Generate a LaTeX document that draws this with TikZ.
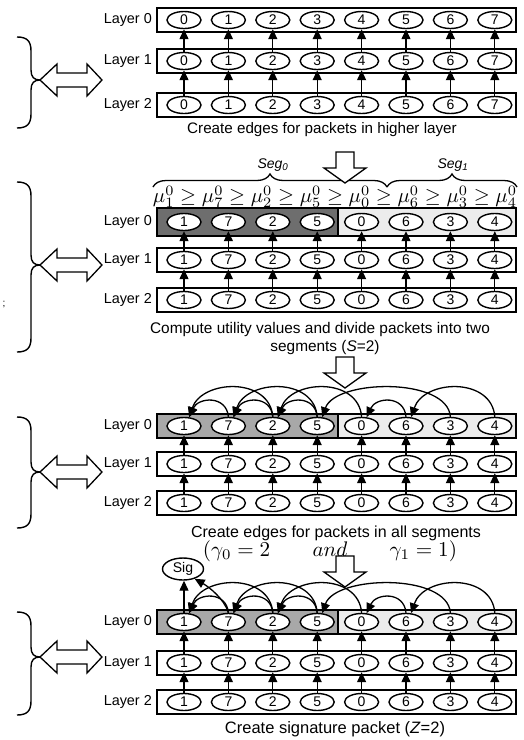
\documentclass[tikz,border=0pt]{standalone}
\usepackage{fontspec}
\setmainfont{Liberation Sans}
\usepackage{graphicx}
\usetikzlibrary{arrows.meta,shapes.geometric,decorations.pathreplacing}
\definecolor{segdark}{HTML}{6E6E6E}
\definecolor{segmid}{HTML}{A8A8A8}
\definecolor{seglight}{HTML}{ECECEC}
\tikzset{
  pkt/.style={draw, line width=1.4pt, fill=white, ellipse, minimum width=34pt, minimum height=17pt, inner sep=0pt, font=\fontsize{14}{14}\selectfont},
  layerbox/.style={draw, line width=1.4pt},
  lbl/.style={anchor=east, font=\fontsize{14.4}{14.4}\selectfont, inner sep=0pt},
  captxt/.style={anchor=base, inner sep=0pt},
  uparr/.style={line width=1.3pt, -{Triangle[length=10pt,width=9pt]}},
  arcarr/.style={line width=1.3pt, -{Triangle[length=10pt,width=9pt]}},
  blockarr/.style={draw, line width=1.3pt, fill=white, line join=miter},
  bracestroke/.style={line width=1.4pt},
  topbrace/.style={line width=1.3pt, decorate, decoration={brace, amplitude=13pt}}
}
\newcommand\pktrow[3]{%
  \foreach \t [count=\i from 0] in {#3} {\node[pkt] (#1c\i) at ({184+44.4*\i},#2) {\t};}}
\newcommand\uprow[2]{%
  \foreach \i in {0,...,7} {\draw[uparr] (#1c\i) -- (#2c\i);}}
\newcommand\leftbrace[3]{%
  \draw[bracestroke] (17,#1) .. controls (27,#1) and (31,{#1+4}) .. (31,{#1+14})
    -- (31,{#2-10}) .. controls (31,{#2-3}) and (34,#2) .. (40,#2)
    .. controls (34,#2) and (31,{#2+3}) .. (31,{#2+10})
    -- (31,{#3-14}) .. controls (31,{#3-4}) and (27,#3) .. (17,#3);}
\newcommand\dblarrow[1]{%
  \draw[blockarr] (40,#1) -- (57,{#1-16}) -- (57,{#1-7}) -- (87,{#1-7}) -- (87,{#1-16})
    -- (102,#1) -- (87,{#1+16}) -- (87,{#1+7}) -- (57,{#1+7}) -- (57,{#1+16}) -- cycle;}
\newcommand\blockdown[1]{%
  \draw[blockarr] (336,#1) -- (354,#1) -- (354,{#1+16}) -- (366,{#1+16}) -- (345,{#1+31})
    -- (324,{#1+16}) -- (336,{#1+16}) -- cycle;}
\newcommand\smallarc[2]{\draw[arcarr] (#1.north) .. controls +(-2,-22) and +(9,-20) .. (#2.60);}
\newcommand\bigarc[2]{\draw[arcarr] (#1.north) .. controls +(-3,-40) and +(13,-38) .. (#2.60);}
\newcommand\segarcs[1]{%
  \smallarc{#1c1}{#1c0}
  \bigarc{#1c2}{#1c0}
  \smallarc{#1c2}{#1c1}
  \bigarc{#1c3}{#1c1}
  \smallarc{#1c3}{#1c2}
  \bigarc{#1c4}{#1c2}
  \bigarc{#1c6}{#1c3}
  \smallarc{#1c5}{#1c4}
  \bigarc{#1c7}{#1c5}}
\begin{document}
\begin{tikzpicture}[x=1pt,y=-1pt]
\useasboundingbox (0,0) rectangle (523,740);
\fill[white] (0,0) rectangle (523,740);

% ---------- layer boxes ----------
\foreach \y in {20,61,105,260,300,464,503,663,702}
  \draw[layerbox] (157,{\y-12}) rectangle (516,{\y+12});
% panel 2 layer 0
\fill[segdark] (157,208) rectangle (338,236);
\fill[seglight] (338,208) rectangle (516,236);
\draw[layerbox] (157,208) rectangle (516,236);
\draw[layerbox] (338,208) -- (338,236);
% panel 3 layer 0
\fill[segmid] (157,414) rectangle (338,438);
\fill[seglight] (338,414) rectangle (516,438);
\draw[layerbox] (157,414) rectangle (516,438);
\draw[layerbox] (338,414) -- (338,438);
% panel 4 layer 0
\fill[segmid] (157,610) rectangle (338,634);
\fill[seglight] (338,610) rectangle (516,634);
\draw[layerbox] (157,610) rectangle (516,634);
\draw[layerbox] (338,610) -- (338,634);

% ---------- layer labels ----------
\node[lbl] (a0lab) at (152,20) {Layer 0};
\node[lbl] (a1lab) at (152,61) {Layer 1};
\node[lbl] (a2lab) at (152,105) {Layer 2};
\node[lbl] (b0lab) at (152,222) {Layer 0};
\node[lbl] (b1lab) at (152,260) {Layer 1};
\node[lbl] (b2lab) at (152,300) {Layer 2};
\node[lbl] (c0lab) at (152,426) {Layer 0};
\node[lbl] (c1lab) at (152,464) {Layer 1};
\node[lbl] (c2lab) at (152,503) {Layer 2};
\node[lbl] (d0lab) at (152,622) {Layer 0};
\node[lbl] (d1lab) at (152,663) {Layer 1};
\node[lbl] (d2lab) at (152,702) {Layer 2};

% ---------- packets ----------
\pktrow{a0}{20}{0,1,2,3,4,5,6,7}
\pktrow{a1}{61}{0,1,2,3,4,5,6,7}
\pktrow{a2}{105}{0,1,2,3,4,5,6,7}
\pktrow{b0}{222}{1,7,2,5,0,6,3,4}
\pktrow{b1}{260}{1,7,2,5,0,6,3,4}
\pktrow{b2}{300}{1,7,2,5,0,6,3,4}
\pktrow{c0}{426}{1,7,2,5,0,6,3,4}
\pktrow{c1}{464}{1,7,2,5,0,6,3,4}
\pktrow{c2}{503}{1,7,2,5,0,6,3,4}
\pktrow{d0}{622}{1,7,2,5,0,6,3,4}
\pktrow{d1}{663}{1,7,2,5,0,6,3,4}
\pktrow{d2}{702}{1,7,2,5,0,6,3,4}

% ---------- vertical edges ----------
\uprow{a1}{a0}\uprow{a2}{a1}
\uprow{b1}{b0}\uprow{b2}{b1}
\uprow{c1}{c0}\uprow{c2}{c1}
\uprow{d1}{d0}\uprow{d2}{d1}

% ---------- segment edges ----------
\segarcs{c0}
\segarcs{d0}

% ---------- signature ----------
\node[draw, ellipse, line width=1.4pt, fill=white, minimum width=41pt, minimum height=22pt, inner sep=0pt,
  font=\fontsize{14}{14}\selectfont] (sig) at (183,569) {Sig};
\draw[arcarr] (d0c0.north) -- (d0c0.north |- sig.south);
\draw[arcarr] (d0c1.north) .. controls +(-4,-14) and +(14,8) .. (sig.-40);

% ---------- captions ----------
\node[captxt, font=\fontsize{15.2}{15.2}\selectfont] (cap1) at (322,133) {Create edges for packets in higher layer};
\node[captxt, font=\fontsize{15.4}{15.4}\selectfont] (cap2a) at (320,333) {Compute utility values and divide packets into two};
\node[captxt, font=\fontsize{15.4}{15.4}\selectfont] (cap2b) at (325,351) {segments (\textit{S}=2)};
\node[captxt, font=\fontsize{16}{16}\selectfont] (cap3) at (336,537) {Create edges for packets in all segments};
\node[inner sep=0pt] (gam) at (330,551) {\resizebox{254pt}{!}{$(\gamma_0=2\qquad\mathnormal{and}\qquad\gamma_1=1)$}};
\node[captxt, font=\fontsize{16.5}{16.5}\selectfont] (cap4) at (335,733) {Create signature packet (\textit{Z}=2)};

% ---------- segment braces and utilities ----------
\draw[topbrace] (153,187) -- (387,187);
\draw[topbrace] (387,187) -- (517,187);
\node[inner sep=0pt, font=\fontsize{14}{14}\selectfont] (seg0) at (273,165) {\textit{Seg}\textsubscript{\textit{0}}};
\node[inner sep=0pt, font=\fontsize{14}{14}\selectfont] (seg1) at (453,165) {\textit{Seg}\textsubscript{\textit{1}}};
\node[inner sep=0pt] (mu) at (335,197) {\resizebox{364pt}{!}{$\mu_1^0\geq\mu_7^0\geq\mu_2^0\geq\mu_5^0\geq\mu_0^0\geq\mu_6^0\geq\mu_3^0\geq\mu_4^0$}};

% ---------- down block arrows ----------
\blockdown{152}
\blockdown{357}
\blockdown{556}

% ---------- left braces and double arrows ----------
\leftbrace{37}{80}{128}
\leftbrace{182}{265}{352}
\leftbrace{417}{472}{528}
\leftbrace{612}{657}{715}
\dblarrow{80}
\dblarrow{265}
\dblarrow{472}
\dblarrow{657}
\node[inner sep=0pt, font=\fontsize{10}{10}\selectfont] (semi) at (4,304) {;};
\end{tikzpicture}
\end{document}
